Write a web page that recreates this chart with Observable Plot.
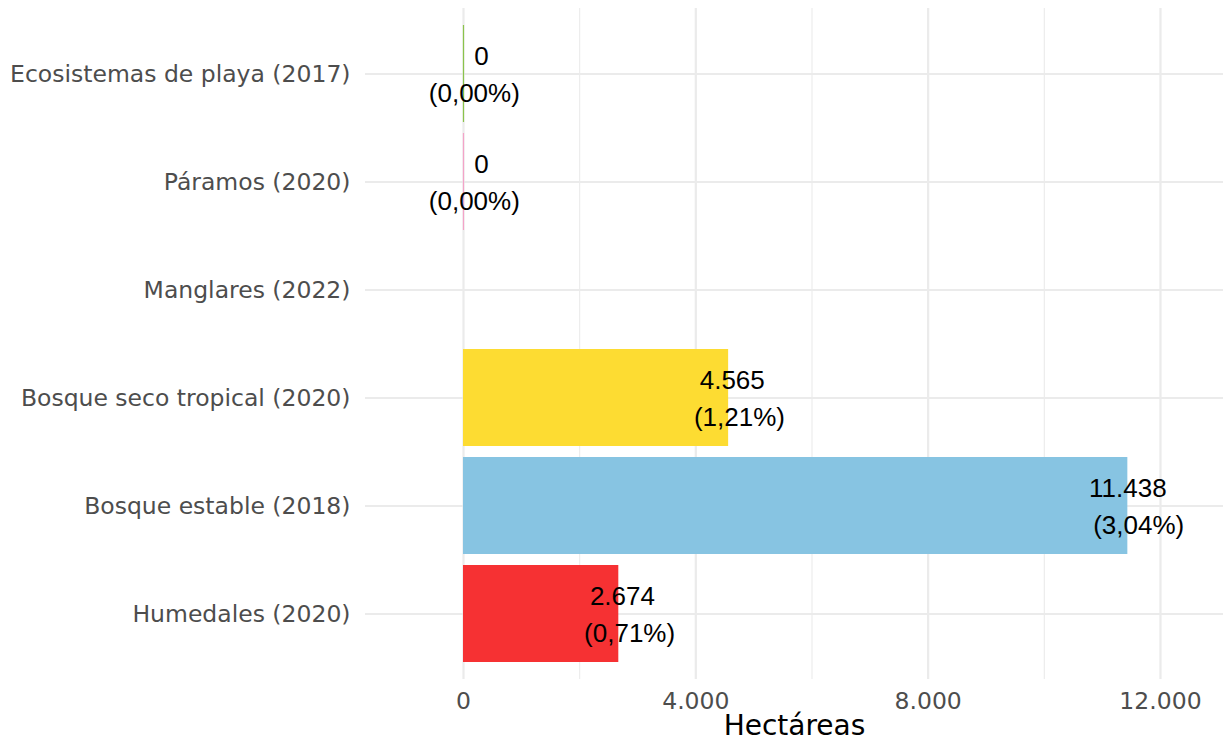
<!DOCTYPE html>
<html>
<head>
<meta charset="utf-8">
<script src="https://cdn.jsdelivr.net/npm/d3@7"></script>
<script src="https://cdn.jsdelivr.net/npm/@observablehq/plot@0.6"></script>
<style>
  html, body { margin: 0; padding: 0; background: #ffffff; }
  #chart svg { display: block; }
  #chart svg text { white-space: pre; }
</style>
</head>
<body>
<div id="chart"></div>
<script>
const categories = [
  "Ecosistemas de playa (2017)",
  "Páramos (2020)",
  "Manglares (2022)",
  "Bosque seco tropical (2020)",
  "Bosque estable (2018)",
  "Humedales (2020)"
];
const hectares = [0, 0, null, 4565, 11438, 2674];
const percents = [0.00, 0.00, null, 1.21, 3.04, 0.71];
const colors = ["#8BC34A", "#F4A3C8", "#3A9C8F", "#FDDC32", "#87C4E2", "#F63133"];
const xTicks = [0, 4000, 8000, 12000];
const xMinorTicks = [2000, 6000, 10000];
const xTitle = "Hectáreas";

const locale = d3.formatLocale({decimal: ",", thousands: ".", grouping: [3], currency: ["", ""]});
const fmtInt = locale.format(",.0f");
const fmtPct = locale.format(".2f");

const rows = categories.map((c, i) => ({
  category: c,
  value: hectares[i],
  pct: percents[i]
}));
const present = rows.filter(d => d.value != null);
const nonZero = present.filter(d => d.value > 0);
const zeros = present.filter(d => d.value === 0);
const labelRows = present.map(d => ({
  ...d,
  label: fmtInt(d.value).padStart(6, " ") + "\n" + ("(" + fmtPct(d.pct) + "%)").padStart(10, " ")
}));

const chart = Plot.plot({
  width: 1223,
  height: 743,
  marginLeft: 365,
  marginRight: 0,
  marginTop: 8,
  marginBottom: 64,
  style: {background: "#ffffff"},
  x: {domain: [-1687, 13085]},
  y: {domain: categories, paddingInner: 0.1, paddingOuter: 0.15},
  color: {domain: categories, range: colors},
  marks: [
    Plot.gridX(xMinorTicks, {stroke: "#EBEBEB", strokeOpacity: 1, strokeWidth: 1.1}),
    Plot.gridX(xTicks, {stroke: "#EBEBEB", strokeOpacity: 1, strokeWidth: 2.2}),
    Plot.gridY(categories, {stroke: "#EBEBEB", strokeOpacity: 1, strokeWidth: 2.2}),
    Plot.barX(nonZero, {x1: 0, x2: "value", y: "category", fill: "category"}),
    Plot.tickX(zeros, {x: "value", y: "category", stroke: "category", strokeWidth: 1.2, strokeOpacity: 1}),
    Plot.axisX({ticks: xTicks, tickFormat: fmtInt, tickSize: 0, tickPadding: 13, fontSize: 23.5,
      fontFamily: "DejaVu Sans", fill: "#4D4D4D", label: null}),
    Plot.axisY({tickSize: 0, tickPadding: 15, fontSize: 23.5, fontFamily: "DejaVu Sans",
      fill: "#4D4D4D", label: null}),
    Plot.text(labelRows, {x: "value", y: "category", text: "label", fontSize: 26,
      fontFamily: "Liberation Sans", fill: "#000000", textAnchor: "middle",
      lineAnchor: "middle", lineHeight: 1.42, dy: -2}),
    Plot.text([xTitle], {frameAnchor: "bottom", dy: 47, fontSize: 28, fontFamily: "DejaVu Sans",
      fill: "#000000", lineAnchor: "middle", textAnchor: "middle"})
  ]
});
document.getElementById("chart").appendChild(chart);
</script>
</body>
</html>
